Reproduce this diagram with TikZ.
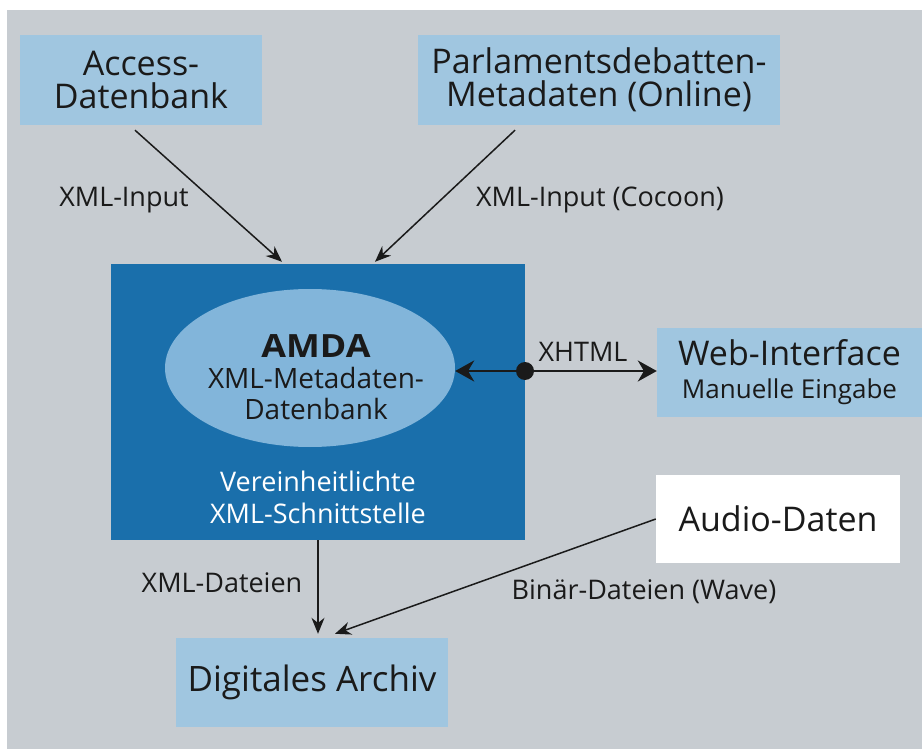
\documentclass[tikz,border=0pt]{standalone}
\usepackage{fontspec}
\setmainfont{Open Sans}
\usetikzlibrary{arrows.meta,positioning,shapes.geometric}
\definecolor{bggray}{HTML}{C7CCD1}
\definecolor{boxblue}{HTML}{A0C6E0}
\definecolor{darkblue}{HTML}{1A6FAB}
\definecolor{ellblue}{HTML}{82B5DA}
\definecolor{inkblack}{HTML}{1A1A1A}

\begin{document}
\begin{tikzpicture}[
  x=1pt, y=-1pt,
  big/.style={font=\fontsize{34}{33}\selectfont, text=inkblack, align=center},
  src/.style={big, fill=boxblue, inner sep=0pt, minimum height=90pt},
  lab/.style={font=\fontsize{27}{30}\selectfont, text=inkblack},
  arr/.style={-{Stealth[length=16pt,width=13pt]}, line width=1.5pt, draw=inkblack},
  dbl/.style={{Stealth[length=19pt,width=21pt]}-{Stealth[length=19pt,width=21pt]}, line width=2.8pt, draw=inkblack}
]
% paper
\useasboundingbox (0,0) rectangle (922,749);
\fill[white] (0,0) rectangle (922,749);
\fill[bggray] (7,10) rectangle (922,749);

% Sources
\node[src, minimum width=242pt] (access) at (141,80) {Access-\\Datenbank};
\node[src, minimum width=362pt] (parl) at (599,80) {Parlamentsdebatten-\\Metadaten (Online)};

% AMDA
\node[fill=darkblue, minimum width=414pt, minimum height=276pt] (amda) at (318,402) {};
\node[ellipse, fill=ellblue, minimum width=290pt, minimum height=158pt, inner sep=0pt] (db) at (310,368) {};
\node[align=center, text=inkblack, font=\fontsize{28}{31}\selectfont] (dbtxt) at (316,377)
  {{\fontsize{32}{31}\selectfont\bfseries\scalebox{1.12}[1]{AMDA}}\\XML-Metadaten-\\Datenbank};
\node[align=center, text=white, font=\fontsize{27}{32}\selectfont] (iface) at (318,497)
  {Vereinheitlichte\\XML-Schnittstelle};

% Right side
\node[src, minimum width=265pt, minimum height=89pt] (web) at (789.5,372.5)
  {Web-Interface\\\fontsize{26}{32}\selectfont Manuelle Eingabe};
\node[src, fill=white, minimum width=244pt, minimum height=88pt] (audio) at (778,519) {Audio-Daten};

% Archive
\node[src, minimum width=272pt, minimum height=89pt, font=\fontsize{35}{33}\selectfont] (dig) at (312,682.5) {Digitales Archiv};

% Connections
\draw[arr] ([xshift=-6pt,yshift=-5pt]access.south) -- ([xshift=-36pt,yshift=2pt]amda.north);
\draw[arr] ([xshift=-84pt,yshift=-5pt]parl.south) -- ([xshift=57pt,yshift=2pt]amda.north);
\node[lab] (in1) at (124,200) {XML-Input};
\node[lab] (in2) at (600,200) {XML-Input (Cocoon)};

\node[circle, fill=inkblack, minimum size=18pt, inner sep=0pt] (hub) at (525,371) {};
\draw[dbl] (hub -| db.east) -- (hub -| web.west);
\node[lab] (xhtml) at (583,352) {XHTML};

\draw[arr] (amda.south) -- ([yshift=4pt]amda.south |- dig.north);
\draw[arr] (audio.west) -- ([xshift=23pt,yshift=4pt]dig.north);
\node[lab] (xmld) at (222,583) {XML-Dateien};
\node[lab] (bin) at (644,592) {Binär-Dateien (Wave)};

\end{tikzpicture}
\end{document}
